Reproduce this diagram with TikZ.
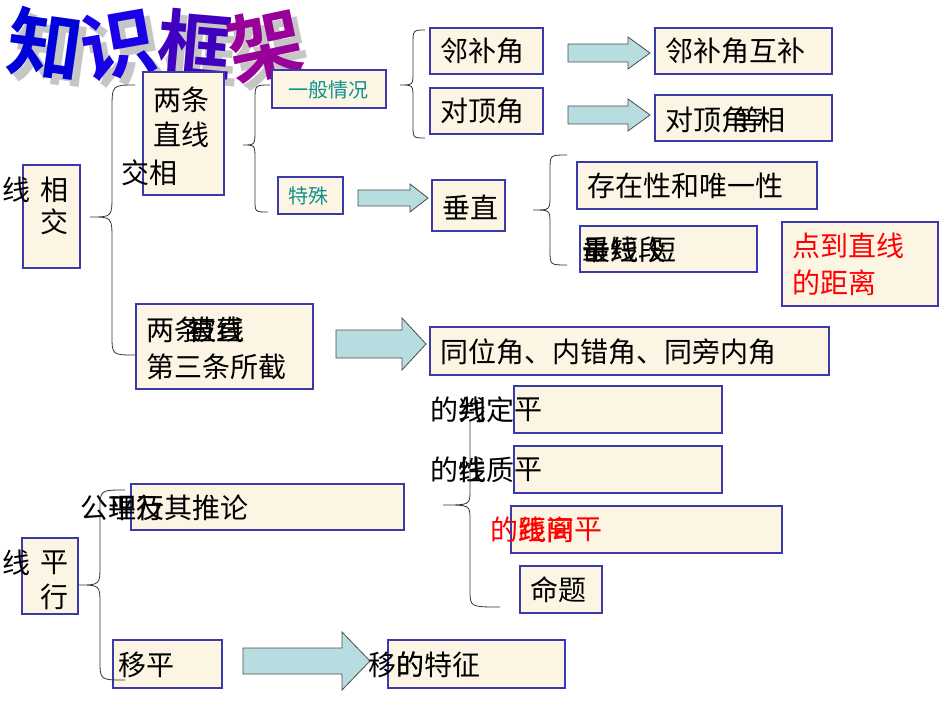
\documentclass[tikz,border=0pt]{standalone}
\usepackage{fontspec}
\setmainfont{Noto Sans CJK SC}
\newfontfamily\cjkb{Noto Sans CJK SC}[BoldFont=* Bold]
\definecolor{boxfill}{HTML}{FDF5E4}
\definecolor{boxline}{HTML}{3A3AA8}
\definecolor{arrfill}{HTML}{B7DDE0}
\definecolor{teal2}{HTML}{109090}
\tikzset{
 bx/.style={draw=boxline,fill=boxfill,line width=0.8pt,inner sep=0},
 tx/.style={font=\fontsize{21}{23}\selectfont,anchor=west,inner sep=0},
 stx/.style={font=\fontsize{15}{17}\selectfont,anchor=west,inner sep=0,text=teal2},
 barr/.style={draw=black!70,fill=arrfill,line width=0.6pt,line join=miter},
 brc/.style={draw=black!80,line width=0.6pt},
 ttl/.style={font=\cjkb\bfseries\fontsize{56}{56}\selectfont,inner sep=0}
}
% x1,y,x2,shaft half,head half,head length
\newcommand\blockarrow[6]{\draw[barr] (#1,#2-#4) -- (#3-#6,#2-#4) -- (#3-#6,#2-#5) -- (#3,#2) -- (#3-#6,#2+#5) -- (#3-#6,#2+#4) -- (#1,#2+#4) -- cycle;}
\begin{document}
\begin{tikzpicture}[x=0.75pt,y=-0.75pt]
\useasboundingbox (0,0) rectangle (950,713);
% title
\foreach \c/\x/\r/\col in {知/45/-8/blue!85!black,识/118/10/blue!80!violet,框/195/-5/blue!50!violet,架/265/12/violet!80!magenta}{
 \node[ttl,text=gray!45,rotate=\r] (sh\x) at (\x+7,52) {\c};
 \node[ttl,text=\col,rotate=\r] (t\x) at (\x,45) {\c};
}
% boxes
\draw[bx] (23,165) rectangle (80,268);
\draw[bx] (143,72) rectangle (224,195);
\draw[bx] (272,70) rectangle (386,108);
\draw[bx] (278,177) rectangle (343,214);
\draw[bx] (430,28) rectangle (543,74);
\draw[bx] (430,88) rectangle (543,134);
\draw[bx] (655,28) rectangle (832,74);
\draw[bx] (655,95) rectangle (832,141);
\draw[bx] (432,180) rectangle (505,231);
\draw[bx] (577,162) rectangle (817,209);
\draw[bx] (580,226) rectangle (757,272);
\draw[bx] (782,222) rectangle (938,306);
\draw[bx] (136,304) rectangle (313,389);
\draw[bx] (430,327) rectangle (829,375);
\draw[bx] (514,386) rectangle (722,433);
\draw[bx] (514,446) rectangle (722,493);
\draw[bx] (511,506) rectangle (782,553);
\draw[bx] (520,566) rectangle (602,613);
\draw[bx] (22,538) rectangle (78,614);
\draw[bx] (131,484) rectangle (404,530);
\draw[bx] (113,640) rectangle (222,688);
\draw[bx] (388,640) rectangle (565,688);
% block arrows
\blockarrow{568}{53}{650}{9}{16}{22}
\blockarrow{568}{115}{650}{9}{16}{22}
\blockarrow{358}{198}{428}{8}{14}{18}
\blockarrow{336}{344}{426}{14}{26}{24}
\blockarrow{243}{661}{370}{13}{29}{28}
% texts
\node[tx] (l1) at (2,190) {线};
\node[tx] (l2) at (40,190) {相};
\node[tx] (l3) at (40,222) {交};
\node[tx] (m1) at (153,100) {两条};
\node[tx] (m2) at (153,135) {直线};
\node[tx] (m3) at (121,173) {交相};
\node[stx] (g1) at (288,90) {一般情况};
\node[stx] (g2) at (288,196) {特殊};
\node[tx] (n1) at (440,51) {邻补角};
\node[tx] (n2) at (440,111) {对顶角};
\node[tx] (n3) at (665,51) {邻补角互补};
\node[tx] (n4) at (665,120) {对顶角};
\node[tx] (n4b) at (735,120) {等};
\node[tx] (n4c) at (757,120) {相};
\node[tx] (v1) at (442,207) {垂直};
\node[tx] (v2) at (587,186) {存在性和唯一性};
\node[tx] (v3) at (582,250) {垂线段};
\node[tx] (v3b) at (582,250) {最短};
\node[tx] (v3c) at (648,250) {短};
\node[tx,text=red] (v4) at (792,246) {点到直线};
\node[tx,text=red] (v5) at (792,283) {的距离};
\node[tx] (w1) at (146,330) {两条};
\node[tx] (w1b) at (188,330) {被直};
\node[tx] (w1c) at (188,330) {直线};
\node[tx] (w2) at (146,367) {第三条所截};
\node[tx] (w3) at (440,352) {同位角、内错角、同旁内角};
\node[tx] (p1) at (430,410) {的};
\node[tx] (p1b) at (458,410) {判定};
\node[tx] (p1c) at (458,410) {线};
\node[tx] (p1d) at (514,410) {平};
\node[tx] (p2) at (430,470) {的};
\node[tx] (p2b) at (458,470) {性质};
\node[tx] (p2c) at (458,470) {线};
\node[tx] (p2d) at (514,470) {平};
\node[tx,text=red] (p3) at (490,530) {的};
\node[tx,text=red] (p3b) at (518,530) {距离};
\node[tx,text=red] (p3c) at (518,530) {线间};
\node[tx,text=red] (p3d) at (574,530) {平};
\node[tx] (p4) at (530,590) {命题};
\node[tx] (q1) at (2,563) {线};
\node[tx] (q2) at (40,563) {平};
\node[tx] (q3) at (40,597) {行};
\node[tx] (q4) at (80,508) {公理及其推论};
\node[tx] (q4b) at (108,508) {平行};
\node[tx] (r1) at (118,665) {移平};
\node[tx] (r2) at (368,665) {移的特征};
\node[tx] (r2b) at (396,665) {的};
% braces
\draw[brc] (135,85) .. controls (112,85) .. (112,110) -- (112,195) .. controls (112,217) .. (90,217) .. controls (112,217) .. (112,240) -- (112,335) .. controls (112,355) .. (135,355);
\draw[brc] (270,85) .. controls (255,85) .. (255,100) -- (255,130) .. controls (255,145) .. (243,145) .. controls (255,145) .. (255,160) -- (255,200) .. controls (255,212) .. (268,212);
\draw[brc] (425,30) .. controls (413,30) .. (413,45) -- (413,72) .. controls (413,85) .. (400,85) .. controls (413,85) .. (413,98) -- (413,125) .. controls (413,138) .. (425,138);
\draw[brc] (567,155) .. controls (550,155) .. (550,170) -- (550,196) .. controls (550,210) .. (533,210) .. controls (550,210) .. (550,224) -- (550,250) .. controls (550,265) .. (567,265);
\draw[brc] (125,490) .. controls (100,490) .. (100,510) -- (100,565) .. controls (100,585) .. (78,585) .. controls (100,585) .. (100,605) -- (100,660) .. controls (100,680) .. (125,680);
\draw[brc] (470,420) -- (470,490) .. controls (470,505) .. (443,505) .. controls (470,505) .. (470,520) -- (470,590) .. controls (470,607) .. (500,607);
\end{tikzpicture}
\end{document}
